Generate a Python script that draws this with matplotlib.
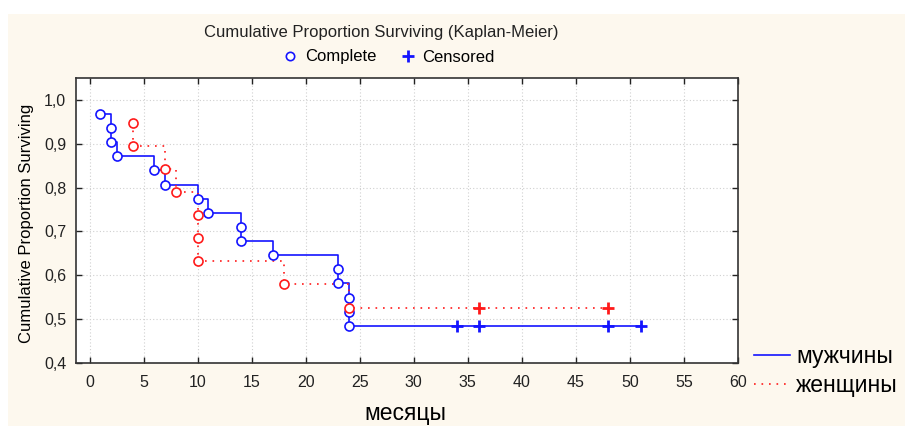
import numpy as np
import matplotlib
matplotlib.use("Agg")
import matplotlib.pyplot as plt
from matplotlib.lines import Line2D
from matplotlib.patches import Rectangle
from matplotlib.ticker import FuncFormatter

plt.rcParams['font.family'] = ['Liberation Sans', 'DejaVu Sans']

# men: event times and survival estimates, then censored times
men_t = [1, 2, 2, 2.5, 6, 7, 10, 11, 14, 14, 17, 23, 23, 24, 24, 24]
men_s = [0.968, 0.935, 0.903, 0.871, 0.839, 0.806, 0.774, 0.742,
         0.710, 0.677, 0.645, 0.613, 0.581, 0.548, 0.516, 0.484]
men_cens = [34, 36, 48, 51]

# women
wom_t = [4, 4, 7, 8, 10, 10, 10, 18, 24]
wom_s = [0.947, 0.895, 0.842, 0.789, 0.737, 0.684, 0.632, 0.579, 0.526]
wom_cens = [36, 48]

x_ticks = [0, 5, 10, 15, 20, 25, 30, 35, 40, 45, 50, 55, 60]
y_ticks = [0.4, 0.5, 0.6, 0.7, 0.8, 0.9, 1.0]

blue = '#1414ff'
red = '#ff1a1a'
cream = '#fdf8ee'

fig = plt.figure(figsize=(9.05, 4.26), dpi=100, facecolor='white')
fig.patches.append(Rectangle((8 / 905, 0), 1, 1 - 14 / 426, transform=fig.transFigure,
                             facecolor=cream, edgecolor='none', zorder=-10))
ax = fig.add_axes([76 / 905, 1 - 362.7 / 426, (738 - 76) / 905, (362.7 - 78) / 426])
ax.set_facecolor('white')


def km_curve(t, s, cens, color, ls):
    tt = list(t) + list(cens)
    ss = list(s) + [s[-1]] * len(cens)
    ax.step(tt, ss, where='post', color=color, lw=1.2, ls=ls, zorder=3)
    ax.plot(t, s, 'o', ms=6.5, mfc='white', mec=color, mew=1.2, zorder=4)
    ax.plot(cens, [s[-1]] * len(cens), '+', ms=8, mec=color, mew=2, zorder=4)


km_curve(men_t, men_s, men_cens, blue, '-')
km_curve(wom_t, wom_s, wom_cens, red, (0, (1, 3.5)))

ax.set_xlim(-1.25, 60)
ax.set_ylim(0.4, 1.05)
ax.set_xticks(x_ticks)
ax.set_yticks(y_ticks)
ax.yaxis.set_major_formatter(FuncFormatter(lambda v, p: f'{v:.1f}'.replace('.', ',')))
ax.tick_params(direction='in', length=4, width=1, top=True, right=True,
               labelsize=11.5, colors='#222222')
ax.tick_params(axis='x', pad=9)
ax.tick_params(axis='y', pad=7)
ax.grid(True, color='#d0d0d0', ls=(0, (1, 2)), lw=0.8)
for sp in ax.spines.values():
    sp.set_color('#333333')
    sp.set_linewidth(1.2)

ax.set_ylabel('Cumulative Proportion Surviving', fontsize=12)
ax.yaxis.set_label_coords(-0.063, 0.49)
ax.set_xlabel('месяцы', fontsize=16.5)
ax.xaxis.label.set_va('center')
ax.xaxis.set_label_coords(0.497, -0.178)

fig.text(381 / 905, 1 - 33 / 426, 'Cumulative Proportion Surviving (Kaplan-Meier)',
         ha='center', va='center', fontsize=12, color='#222222')

marks = [Line2D([], [], ls='none', marker='o', ms=6, mfc='white', mec=blue, mew=1.2),
         Line2D([], [], ls='none', marker='+', ms=8, mec=blue, mew=2)]
fig.legend(marks, ['Complete', 'Censored'], loc='center', ncol=2, frameon=False,
           bbox_to_anchor=(389 / 905, 1 - 57 / 426), fontsize=12,
           handlelength=0.8, handletextpad=0.45, columnspacing=1.5,
           borderpad=0, borderaxespad=0)

groups = [Line2D([], [], color=blue, lw=1.2),
          Line2D([], [], color=red, lw=1.2, ls=(0, (1, 3.5)))]
fig.legend(groups, ['мужчины', 'женщины'], loc='center left', frameon=False,
           bbox_to_anchor=(754 / 905, 1 - 371 / 426), fontsize=16.5,
           handlelength=1.55, handletextpad=0.3, labelspacing=0.25,
           borderpad=0, borderaxespad=0)

fig.savefig('out.png', dpi=100, facecolor=fig.get_facecolor())
